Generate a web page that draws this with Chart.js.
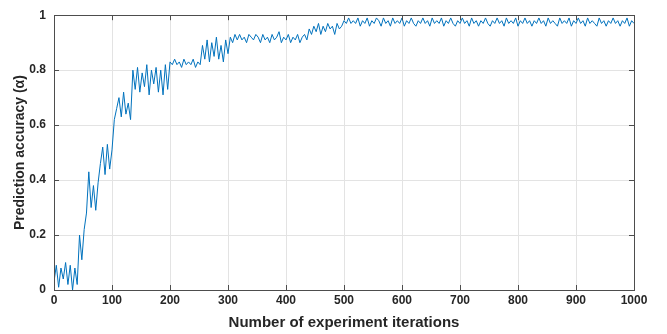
<!DOCTYPE html>
<html>
<head>
<meta charset="utf-8">
<script src="https://cdn.jsdelivr.net/npm/chart.js@4.4.1/dist/chart.umd.min.js"></script>
<style>
  html, body { margin: 0; padding: 0; background: #fff; }
  #wrap { width: 667px; height: 334px; }
</style>
</head>
<body>
<div id="wrap"><canvas id="myChart" width="667" height="334"></canvas></div>
<script>
// accuracy, one value every 4 iterations (0..1000)
const step = 4;
const accuracy = [
  0.03, 0.09, 0.01, 0.08, 0.04, 0.10, 0.02, 0.09, 0.00, 0.08,
  0.02, 0.20, 0.11, 0.22, 0.28, 0.43, 0.30, 0.38, 0.29, 0.39,
  0.46, 0.52, 0.42, 0.53, 0.44, 0.51, 0.62, 0.66, 0.70, 0.63,
  0.72, 0.64, 0.68, 0.62, 0.80, 0.73, 0.81, 0.72, 0.79, 0.74,
  0.82, 0.71, 0.80, 0.75, 0.81, 0.72, 0.80, 0.71, 0.82, 0.73,
  0.83, 0.82, 0.84, 0.82, 0.83, 0.81, 0.84, 0.82, 0.83, 0.82,
  0.84, 0.81, 0.83, 0.82, 0.89, 0.84, 0.91, 0.83, 0.90, 0.85,
  0.92, 0.84, 0.89, 0.83, 0.91, 0.86, 0.92, 0.90, 0.93, 0.91,
  0.93, 0.91, 0.92, 0.90, 0.93, 0.92, 0.91, 0.93, 0.92, 0.90,
  0.93, 0.91, 0.92, 0.90, 0.93, 0.91, 0.92, 0.94, 0.90, 0.92,
  0.91, 0.93, 0.90, 0.92, 0.91, 0.93, 0.90, 0.92, 0.93, 0.91,
  0.95, 0.93, 0.96, 0.94, 0.97, 0.93, 0.96, 0.94, 0.97, 0.95,
  0.96, 0.93, 0.97, 0.95, 0.96, 0.98, 0.97, 0.99, 0.97, 0.98,
  0.97, 0.99, 0.96, 0.98, 0.97, 0.99, 0.96, 0.98, 0.97, 0.99,
  0.98, 0.96, 0.99, 0.97, 0.98, 0.96, 0.99, 0.97, 0.98, 0.97,
  0.99, 0.96, 0.98, 0.97, 0.99, 0.97, 0.96, 0.98, 0.97, 0.99,
  0.97, 0.98, 0.96, 0.99, 0.97, 0.98, 0.97, 0.99, 0.96, 0.98,
  0.97, 0.99, 0.97, 0.96, 0.98, 0.97, 0.99, 0.97, 0.98, 0.96,
  0.99, 0.97, 0.98, 0.96, 0.98, 0.97, 0.99, 0.97, 0.96, 0.98,
  0.97, 0.99, 0.97, 0.98, 0.96, 0.99, 0.97, 0.98, 0.97, 0.99,
  0.96, 0.98, 0.97, 0.99, 0.97, 0.98, 0.96, 0.98, 0.97, 0.99,
  0.97, 0.98, 0.96, 0.99, 0.97, 0.98, 0.97, 0.96, 0.99, 0.97,
  0.98, 0.97, 0.99, 0.96, 0.98, 0.97, 0.99, 0.97, 0.98, 0.96,
  0.99, 0.97, 0.98, 0.97, 0.96, 0.99, 0.97, 0.98, 0.96, 0.98,
  0.97, 0.99, 0.97, 0.98, 0.96, 0.98, 0.97, 0.99, 0.96, 0.98,
  0.97
];
const iterations = accuracy.map((v, i) => i * step);

const xTicks = [0, 100, 200, 300, 400, 500, 600, 700, 800, 900, 1000];
const yTicks = [0, 0.2, 0.4, 0.6, 0.8, 1];

const xTitle = 'Number of experiment iterations';
const yTitle = 'Prediction accuracy (\u03b1)';

const fontFamily = "'Liberation Sans', Arial, sans-serif";
const textColor = '#262626';

// box round the plot plus small inward tick marks, matlab style
const boxPlugin = {
  id: 'box',
  afterDatasetsDraw(chart) {
    const {ctx, chartArea: a, scales} = chart;
    ctx.save();
    ctx.strokeStyle = '#4d4d4d';
    ctx.lineWidth = 1;
    ctx.beginPath();
    xTicks.forEach(t => {
      const x = Math.round(scales.x.getPixelForValue(t)) + 0.5;
      ctx.moveTo(x, a.bottom); ctx.lineTo(x, a.bottom - 5);
      ctx.moveTo(x, a.top); ctx.lineTo(x, a.top + 5);
    });
    yTicks.forEach(t => {
      const y = Math.round(scales.y.getPixelForValue(t)) + 0.5;
      ctx.moveTo(a.left, y); ctx.lineTo(a.left + 5, y);
      ctx.moveTo(a.right, y); ctx.lineTo(a.right - 5, y);
    });
    ctx.stroke();
    ctx.strokeRect(Math.round(a.left) + 0.5, Math.round(a.top) + 0.5,
                   Math.round(a.right - a.left), Math.round(a.bottom - a.top));
    ctx.restore();
  }
};

const data = {
  datasets: [{
    label: 'accuracy',
    data: iterations.map((it, i) => ({x: it, y: accuracy[i]})),
    borderColor: '#0072BD',
    backgroundColor: '#0072BD',
    borderWidth: 1,
    pointRadius: 0,
    tension: 0,
  }],
};

const config = {
  type: 'line',
  data: data,
  plugins: [boxPlugin],
  options: {
    responsive: false,
    animation: false,
    layout: { padding: { top: 14, right: 33, bottom: 0, left: 0 } },
    plugins: { legend: { display: false }, tooltip: { enabled: false } },
    scales: {
      x: {
        type: 'linear',
        min: 0, max: 1000,
        afterBuildTicks: s => { s.ticks = xTicks.map(v => ({value: v})); },
        afterFit: s => { s.height = 44; },
        grid: { color: '#e3e3e3', drawTicks: false },
        border: { display: false },
        ticks: {
          padding: 3, color: textColor, maxRotation: 0,
          font: { family: fontFamily, size: 12, weight: 'bold' },
          callback: v => String(v),
        },
        title: {
          display: true, text: xTitle, color: textColor,
          padding: { top: 0, bottom: 2 },
          font: { family: fontFamily, size: 15, weight: 'bold' },
        },
      },
      y: {
        min: 0, max: 1,
        afterBuildTicks: s => { s.ticks = yTicks.map(v => ({value: v})); },
        afterFit: s => { s.width = 54; },
        grid: { color: '#e3e3e3', drawTicks: false },
        border: { display: false },
        ticks: {
          padding: 8, color: textColor,
          font: { family: fontFamily, size: 12, weight: 'bold' },
          callback: v => String(v),
        },
        title: {
          display: true, text: yTitle, color: textColor,
          padding: { top: 12, bottom: 0 },
          font: { family: fontFamily, size: 14, weight: 'bold' },
        },
      },
    },
  },
};

const myChart = new Chart(document.getElementById('myChart'), config);
</script>
</body>
</html>
